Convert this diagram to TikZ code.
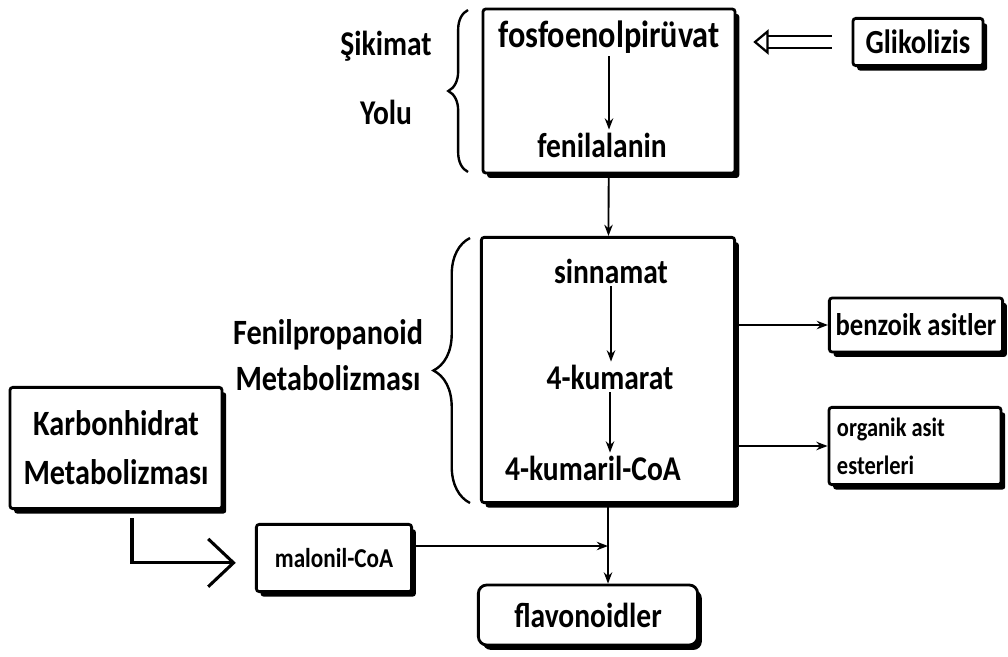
\documentclass[tikz,border=0pt]{standalone}
\usepackage{fontspec}
\setmainfont{Carlito}[FakeStretch=0.85]
\usetikzlibrary{arrows.meta,shadows,decorations.pathreplacing}

\begin{document}
\begin{tikzpicture}[x=0.025cm,y=-0.025cm,
	box/.style={draw,line width=2pt,rounded corners=2pt,fill=white,drop shadow={shadow xshift=3pt,shadow yshift=-3.5pt,fill=black,opacity=1}},
	txt/.style={font=\bfseries\fontsize{24.7}{29}\selectfont,inner sep=2pt},
	flow/.style={-{Stealth[length=8pt,width=6pt]},line width=1.3pt},
	big/.style={-{Straight Barb[length=18pt,width=34pt]},line width=2.2pt},
	hollow/.style={double,double distance=6.5pt,line width=1.6pt,-{Triangle[open,length=11pt,width=18pt,line width=1.6pt]},shorten <=0.5cm,shorten >=0.42cm},
	curly/.style={decorate,decoration={brace,amplitude=14pt},line width=1.7pt}]
	\useasboundingbox (0,0) rectangle (1008,657);

	% sikimat yolu
	\node[box,minimum width=6.3cm,minimum height=4.1cm] at (609,91) (shik) {};
	\node[txt,font=\bfseries\fontsize{27}{31}\selectfont] at (609,37) (pep) {fosfoenolpirüvat};
	\node[txt] at (602,145) (phe) {fenilalanin};
	\node[txt] at (386,46) (shiklbl) {Şikimat};
	\node[txt] at (386,112) (yolu) {Yolu};
	\draw[curly] (468,172) -- (468,10);
	\draw[flow] (pep.south) -- (pep.south |- phe.north);

	\node[box,txt,font=\bfseries\fontsize{24}{28}\selectfont,minimum width=3.25cm,minimum height=1.18cm] at (918,42) (glik) {Glikolizis};
	\draw[hollow] (glik) -- (shik.east |- glik);

	% fenilpropanoid metabolizmasi
	\node[box,minimum width=6.33cm,minimum height=6.63cm] at (608,370) (fen) {};
	\node[txt] at (611,271) (sin) {sinnamat};
	\node[txt] at (610,377) (kum) {4-kumarat};
	\node[txt] at (593,468) (coa) {4-kumaril-CoA};
	\node[txt,align=center,font=\bfseries\fontsize{25.3}{32.7}\selectfont] at (328,355) (fenlbl) {Fenilpropanoid\\Metabolizması};
	\draw[curly,decoration={brace,amplitude=26pt}] (470,503) -- (470,238);
	\draw[flow] (shik) -- (fen);
	\draw[flow] (sin.south) -- (sin.south |- kum.north);
	\draw[flow] (kum.south) -- (kum.south |- coa.north);

	\node[box,txt,font=\bfseries\fontsize{22.3}{26}\selectfont,minimum width=4.33cm,minimum height=1.35cm] at (916,325) (benz) {benzoik asitler};
	\node[box,txt,font=\bfseries\fontsize{18.8}{27}\selectfont,align=flush left,text width=3.9cm,inner xsep=0.2cm,minimum height=1.93cm] at (915,446) (org) {organik asit\\esterleri};
	\draw[flow] (fen.east |- benz) -- (benz);
	\draw[flow] (fen.east |- org) -- (org);

	% karbonhidrat
	\node[box,txt,align=center,font=\bfseries\fontsize{25.3}{35}\selectfont,minimum width=5.3cm,minimum height=3.03cm] at (116,448) (karb) {Karbonhidrat\\Metabolizması};
	\node[box,txt,font=\bfseries\fontsize{19.4}{23}\selectfont,minimum width=3.88cm,minimum height=1.68cm] at (334,558) (mal) {malonil-CoA};
	\draw[big] ([xshift=0.4cm,yshift=-0.2cm]karb.south) |- ([xshift=-0.48cm,yshift=-0.12cm]mal.west);

	% flavonoidler
	\node[box,txt,rounded corners=6pt,minimum width=5.48cm,minimum height=1.5cm] at (588,615) (flav) {flavonoidler};
	\coordinate (jn) at (608,546);
	\draw[flow] (fen) -- (fen |- flav.north);
	\draw[flow] ([yshift=0.3cm]mal.east) -- (jn);
\end{tikzpicture}
\end{document}
